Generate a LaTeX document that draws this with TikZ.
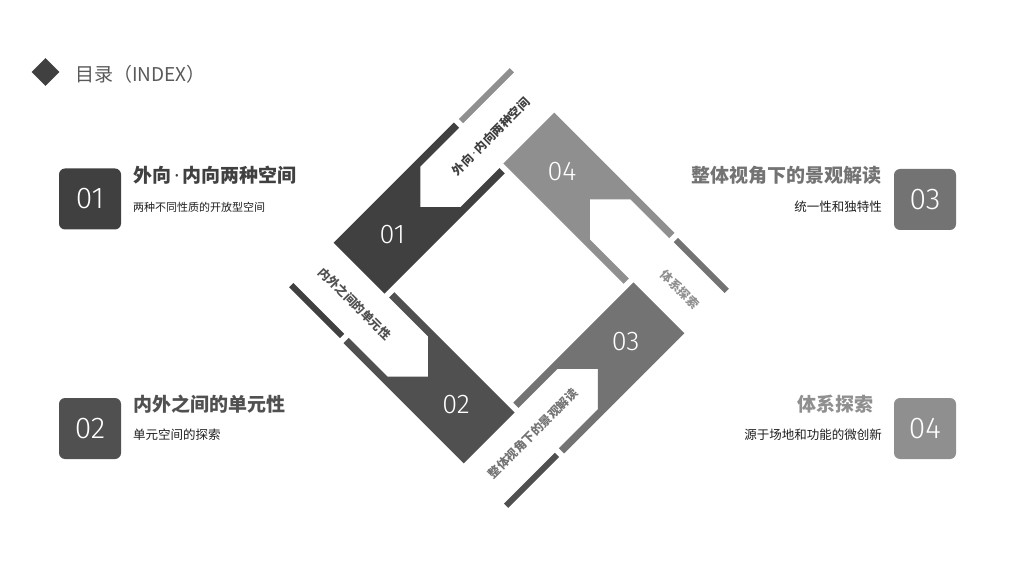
\documentclass[tikz,border=0pt]{standalone}
\usepackage{fontspec}
\usetikzlibrary{shapes.geometric}
\setmainfont{Noto Sans CJK SC}
\IfFontExistsTF{Fira Sans Light}{\newfontfamily\numfont{Fira Sans Light}}{\newfontfamily\numfont{Noto Sans CJK SC}}
\newfontfamily\dotfont{Noto Sans}
\newcommand\middot{{\dotfont\,·\,}}
\definecolor{cA}{HTML}{404040}
\definecolor{cB}{HTML}{505050}
\definecolor{cC}{HTML}{737373}
\definecolor{cD}{HTML}{8F8F8F}
\definecolor{cT}{HTML}{595959}
\definecolor{cS}{HTML}{1E1E1E}
\begin{document}
\begin{tikzpicture}[x=1pt,y=1pt,
  numbox/.style={rounded corners=6pt,minimum width=62pt,minimum height=61pt,inner sep=0pt,
    text=white,font=\numfont\fontsize{30}{30}\selectfont},
  headline/.style={inner sep=0pt,font=\bfseries\fontsize{19}{20}\selectfont},
  subline/.style={inner sep=0pt,text=cS,font=\fontsize{12.5}{14}\selectfont}]
  \useasboundingbox (0,0) rectangle (1024,576);
  \node[diamond,fill=cA,minimum size=28pt,inner sep=0pt] (mark) at (45.5,504) {};
  \node[anchor=west,inner sep=0pt,text=cT,font=\fontsize{19}{20}\selectfont] (title) at (75,502) {目录（INDEX）};
  % pinwheel
  \foreach \ang/\col/\num/\txt/\rot/\anc in {45/cA/01/{外向\middot 内向两种空间}/45/east,
      -45/cD/04/{体系探索}/-45/east, -135/cC/03/{整体视角下的景观解读}/45/west,
      135/cB/02/{内外之间的单元性}/-45/west}{
    \begin{scope}[shift={(509,288)},rotate=\ang]
      \fill[\col] (-155,84) rectangle (-149,156);
      \fill[\col] (-92,84) -- (78,84) -- (78,91.5) -- (23,91.5) -- (-5.5,120) -- (23,148.5)
        -- (78,148.5) -- (78,156) -- (-92,156) -- cycle;
      \node[text=white,font=\numfont\fontsize{27}{27}\selectfont] (num\num) at (-45,120) {\num};
      \node[rotate=\rot,anchor=\anc,inner sep=0pt,text=\col,font=\bfseries\fontsize{12}{12}\selectfont]
        (arm\num) at (146,120) {\txt};
    \end{scope}}
  % left and right items
  \node[numbox,fill=cA] (box1) at (90,377) {01};
  \node[headline,anchor=west,text=cA] (head1) at (133,401) {外向\middot 内向两种空间};
  \node[subline,anchor=west,font=\fontsize{11}{13}\selectfont] (sub1) at (133,369) {两种不同性质的开放型空间};
  \node[numbox,fill=cB] (box2) at (90,147.5) {02};
  \node[headline,anchor=west,text=cB] (head2) at (133,172) {内外之间的单元性};
  \node[subline,anchor=west] (sub2) at (133,141) {单元空间的探索};
  \node[numbox,fill=cC] (box3) at (925,376.5) {03};
  \node[headline,anchor=east,text=cC] (head3) at (882,401) {整体视角下的景观解读};
  \node[subline,anchor=east] (sub3) at (882,369) {统一性和独特性};
  \node[numbox,fill=cD] (box4) at (925,147.5) {04};
  \node[headline,anchor=east,text=cD] (head4) at (874,172) {体系探索};
  \node[subline,anchor=east] (sub4) at (882,141) {源于场地和功能的微创新};
\end{tikzpicture}
\end{document}
